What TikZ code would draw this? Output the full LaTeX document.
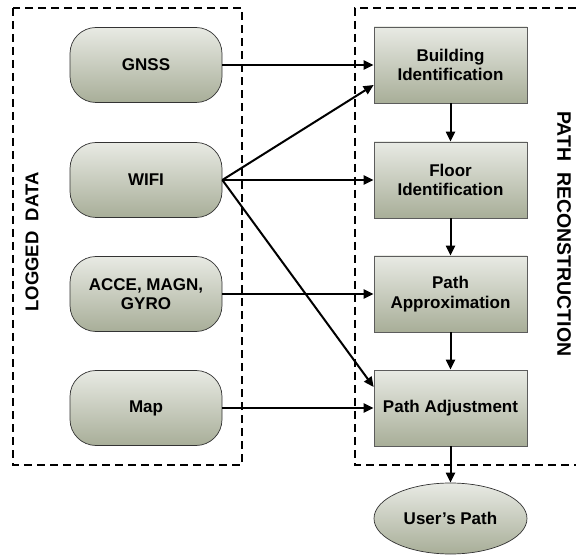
\documentclass[tikz,border=0pt]{standalone}
\usepackage{fontspec}
\setmainfont{Liberation Sans}
\usetikzlibrary{arrows.meta,shapes.geometric}
\definecolor{topc}{HTML}{E8EAE4}
\definecolor{botc}{HTML}{A8AE98}
\definecolor{edgec}{HTML}{333333}
\tikzset{
  boxfont/.style={font=\bfseries\fontsize{17}{19.5}\selectfont},
  src/.style={rounded corners=26pt, draw=edgec, line width=0.7pt, top color=topc, bottom color=botc,
    minimum width=152pt, minimum height=75pt, align=center, inner sep=0pt, boxfont},
  proc/.style={rectangle, draw=edgec!80, line width=0.7pt, top color=topc, bottom color=botc,
    minimum width=153pt, minimum height=76pt, align=center, inner sep=0pt, boxfont},
  outp/.style={ellipse, draw=edgec, line width=0.7pt, top color=topc, bottom color=botc,
    minimum width=153pt, minimum height=71pt, inner sep=0pt, boxfont},
  conn/.style={line width=2pt, -{Triangle[length=10pt,width=9pt]}},
  group/.style={dashed, dash pattern=on 8pt off 5pt, line width=1.1pt},
  grouplabel/.style={inner sep=0pt}
}
\begin{document}
\begin{tikzpicture}[x=1pt,y=-1pt]
\useasboundingbox (0,0) rectangle (576,556);
% groups
\draw[group] (13,8) rectangle (242,465);
\draw[group] (576,8) -- (355,8) -- (355,465) -- (576,465);
\node[grouplabel, rotate=90, font=\bfseries\fontsize{18.5}{20}\selectfont] (lg) at (32,242) {LOGGED\ \ DATA};
\node[grouplabel, rotate=-90, font=\bfseries\fontsize{19.5}{20}\selectfont] (pr) at (564,234) {PATH\ \ RECONSTRUCTION};
% sources
\node[src] (gnss) at (146,65) {GNSS};
\node[src] (wifi) at (146,180) {WIFI};
\node[src] (acce) at (146,294) {ACCE, MAGN,\\GYRO};
\node[src] (map) at (146,408) {Map};
% processes
\node[proc] (bid) at (450.5,65) {Building\\Identification};
\node[proc] (fid) at (450.5,180) {Floor\\Identification};
\node[proc] (pap) at (450.5,294) {Path\\Approximation};
\node[proc] (pad) at (450.5,408) {Path Adjustment};
\node[outp] (up) at (450.5,518.5) {User’s Path};
% connectors
\draw[conn] (gnss.east) -- (bid.west);
\draw[conn] (wifi.east) -- ([yshift=-20pt]bid.west);
\draw[conn] (wifi.east) -- (fid.west);
\draw[conn] (wifi.east) -- ([yshift=21pt]pad.west);
\draw[conn] (acce.east) -- (pap.west);
\draw[conn] (map.east) -- (pad.west);
\draw[conn] (bid.south) -- (fid.north);
\draw[conn] (fid.south) -- (pap.north);
\draw[conn] (pap.south) -- (pad.north);
\draw[conn] (pad.south) -- (up.north);
\end{tikzpicture}
\end{document}
